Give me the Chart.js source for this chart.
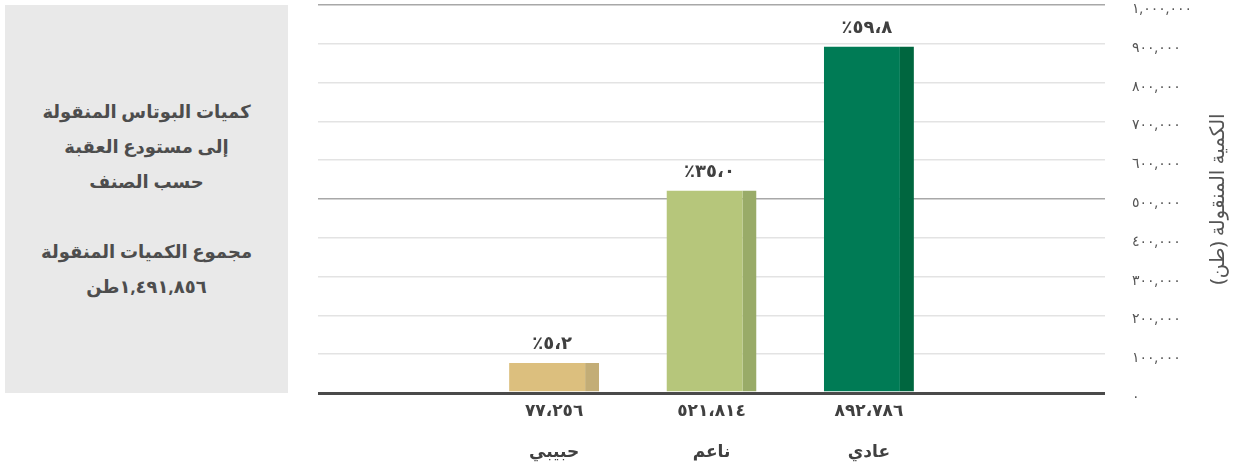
<!DOCTYPE html>
<html lang="ar">
<head>
<meta charset="utf-8">
<script src="https://cdn.jsdelivr.net/npm/chart.js@4"></script>
<style>
  html, body { margin: 0; padding: 0; background: #ffffff; }
  #wrap { position: relative; width: 1238px; height: 470px; }
  #chartBox { position: absolute; left: 0; top: 0; width: 1238px; height: 470px; }
  #sidePanel {
    position: absolute; left: 5px; top: 5px; width: 283px; height: 388px;
    background: #e9e9e9; color: #4d4d4d;
    display: flex; align-items: center; justify-content: center;
    text-align: center; font: bold 18px 'Noto Sans', 'DejaVu Sans', sans-serif;
    line-height: 35px;
  }
</style>
</head>
<body>
<div id="wrap">
  <div id="chartBox"><canvas id="potashChart" dir="rtl"></canvas></div>
  <div id="sidePanel" dir="rtl"></div>
</div>
<script>
const categories = ['حبيبي', 'ناعم', 'عادي'];
const quantities = [77256, 521814, 892786];
const shares = ['5.2', '35.0', '59.8'];
const totalQuantity = 1491856;
const yTicksMax = 1000000;
const yTicksStep = 100000;
const titleLines = ['كميات البوتاس المنقولة', 'إلى مستودع العقبة', 'حسب الصنف', '', 'مجموع الكميات المنقولة'];
const axisTitle = 'الكمية المنقولة (طن)';

const barColors = ['#dcbf7e', '#b6c67b', '#007b55'];
const sideColors = ['#c3ad76', '#99ab68', '#00663f'];

function toArabicDigits(str){
    return String(str).replace(/[0-9]/g, d => '٠١٢٣٤٥٦٧٨٩'[d]);
}

function formatThousands(n, sep){
    return toArabicDigits(n.toLocaleString('en-US')).replace(/,/g, sep);
}

// side panel text
const panel = document.getElementById('sidePanel');
panel.innerHTML = '<div>' + titleLines.map(t => t === '' ? '&nbsp;' : t).join('<br>')
    + '<br>' + formatThousands(totalQuantity, ',') + 'طن</div>';

const fontFamily = "'Noto Sans', 'DejaVu Sans', sans-serif";

const shareLabels = {
    id: 'shareLabels',
    afterDatasetsDraw(chart){
        const ctx = chart.ctx;
        const meta = chart.getDatasetMeta(0);
        ctx.save();
        ctx.direction = 'rtl';
        ctx.font = `bold 18px ${fontFamily}`;
        ctx.fillStyle = '#404040';
        ctx.textAlign = 'center';
        ctx.textBaseline = 'bottom';
        shares.forEach((s, i) => {
            const bar = meta.data[i + 1];
            const txt = toArabicDigits(s).replace('.', '،') + '٪';
            ctx.fillText(txt, bar.x - 2, bar.y - 10);
        });
        ctx.restore();
    }
};

const yAxisTitle = {
    id: 'yAxisTitle',
    afterDraw(chart){
        const ctx = chart.ctx;
        const area = chart.chartArea;
        ctx.save();
        ctx.direction = 'rtl';
        ctx.font = `20px ${fontFamily}`;
        ctx.fillStyle = '#555555';
        ctx.textAlign = 'center';
        ctx.textBaseline = 'middle';
        ctx.translate(area.right + 113, (area.top + area.bottom) / 2);
        ctx.rotate(-Math.PI / 2);
        ctx.fillText(axisTitle, 0, 0);
        ctx.restore();
    }
};

new Chart(document.getElementById('potashChart'), {
    type: 'bar',
    data: {
        labels: ['', ...categories, ''],
        datasets: [{
            data: [null, ...quantities, null],
            backgroundColor: c => barColors[c.dataIndex - 1] || '#000',
            borderColor: c => sideColors[c.dataIndex - 1] || '#000',
            borderWidth: { top: 0, left: 0, bottom: 0, right: 14 },
            borderSkipped: false,
            categoryPercentage: 1,
            barPercentage: 0.572
        }]
    },
    plugins: [shareLabels, yAxisTitle],
    options: {
        responsive: true,
        maintainAspectRatio: false,
        animation: false,
        layout: { padding: { left: 318, right: 0, top: 5, bottom: 0 } },
        plugins: { legend: { display: false }, tooltip: { enabled: false } },
        scales: {
            x: {
                grid: { display: false, drawTicks: false },
                border: { display: false },
                afterFit: s => { s.height = 77; },
                ticks: {
                    padding: 8,
                    maxRotation: 0,
                    color: '#404040',
                    font: { family: fontFamily, size: 17, weight: 'bold', lineHeight: 1.2 },
                    callback: (value, index) => {
                        if (index < 1 || index > categories.length) return '';
                        return [formatThousands(quantities[index - 1], '،'), '', categories[index - 1]];
                    }
                }
            },
            y: {
                position: 'right',
                min: 0,
                max: yTicksMax,
                border: { display: false },
                afterFit: s => {
                    s.width = 133;
                    s.paddingTop = 0;
                    s.paddingBottom = 0;
                },
                grid: {
                    drawTicks: false,
                    color: c => c.tick.value === 0 ? '#4a4a4a'
                        : (c.tick.value % 500000 === 0 ? '#a8a8a8' : '#e3e3e3'),
                    lineWidth: c => c.tick.value === 0 ? 3 : 1.5
                },
                ticks: {
                    stepSize: yTicksStep,
                    padding: 27,
                    labelOffset: 4,
                    color: '#555555',
                    font: { family: fontFamily, size: 14 },
                    callback: v => formatThousands(v, ',')
                }
            }
        }
    }
});
</script>
</body>
</html>
